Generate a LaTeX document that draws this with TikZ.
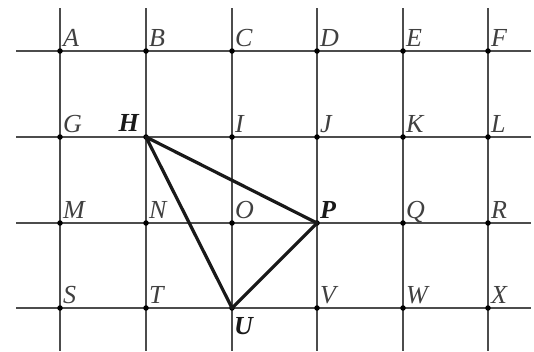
\documentclass[tikz,border=0pt]{standalone}
\usepackage{fontspec}
\setmainfont{Liberation Serif}
\begin{document}
\begin{tikzpicture}[x=1pt,y=-1pt,
  gridline/.style={line width=1.6pt,draw=black!70},
  tri/.style={line width=3.2pt,draw=black!90,line join=round},
  dot/.style={circle,fill=black,inner sep=0pt,minimum size=5.5pt},
  lab/.style={inner sep=0pt,font=\fontsize{26}{26}\selectfont\itshape,text=black!75},
  blab/.style={inner sep=0pt,font=\fontsize{26}{26}\selectfont\bfseries\itshape,text=black!90}]
\useasboundingbox (0,0) rectangle (534,351);
\fill[white] (0,0) rectangle (534,351);
% grid lines
\foreach \i/\x in {1/60,2/146,3/232,4/317,5/403,6/488}{
  \coordinate (vt\i) at (\x,8);
  \coordinate (vb\i) at (\x,351);
  \draw[gridline] (vt\i) -- (vb\i);
}
\foreach \j/\y in {1/51,2/137,3/223,4/308}{
  \coordinate (hl\j) at (16,\y);
  \coordinate (hr\j) at (531,\y);
  \draw[gridline] (hl\j) -- (hr\j);
}
% points
\foreach \n [count=\k from 0] in {A,B,C,D,E,F,G,H,I,J,K,L,M,N,O,P,Q,R,S,T,U,V,W,X}{
  \pgfmathtruncatemacro{\c}{mod(\k,6)}
  \pgfmathtruncatemacro{\r}{int(\k/6)}
  \pgfmathsetmacro{\xx}{{60,146,232,317,403,488}[\c]}
  \pgfmathsetmacro{\yy}{{51,137,223,308}[\r]}
  \node[dot] (\n) at (\xx,\yy) {};
}
% labels
\foreach \n in {A,B,C,D,E,F,G,I,J,K,L,M,N,O,Q,R,S,T,V,W,X}{
  \node[lab,anchor=base west] (lab\n) at ([xshift=3pt,yshift=5pt]\n.center) {\n};
}
\node[blab,anchor=base east] (labH) at ([xshift=-7pt,yshift=6pt]H.center) {H};
\node[blab,anchor=base west] (labP) at ([xshift=3pt,yshift=5pt]P.center) {P};
\node[blab,anchor=north west] (labU) at ([xshift=2pt,yshift=-9pt]U.center) {U};
% triangle
\draw[tri] (H.center) -- (P.center) -- (U.center) -- cycle;
\end{tikzpicture}
\end{document}
